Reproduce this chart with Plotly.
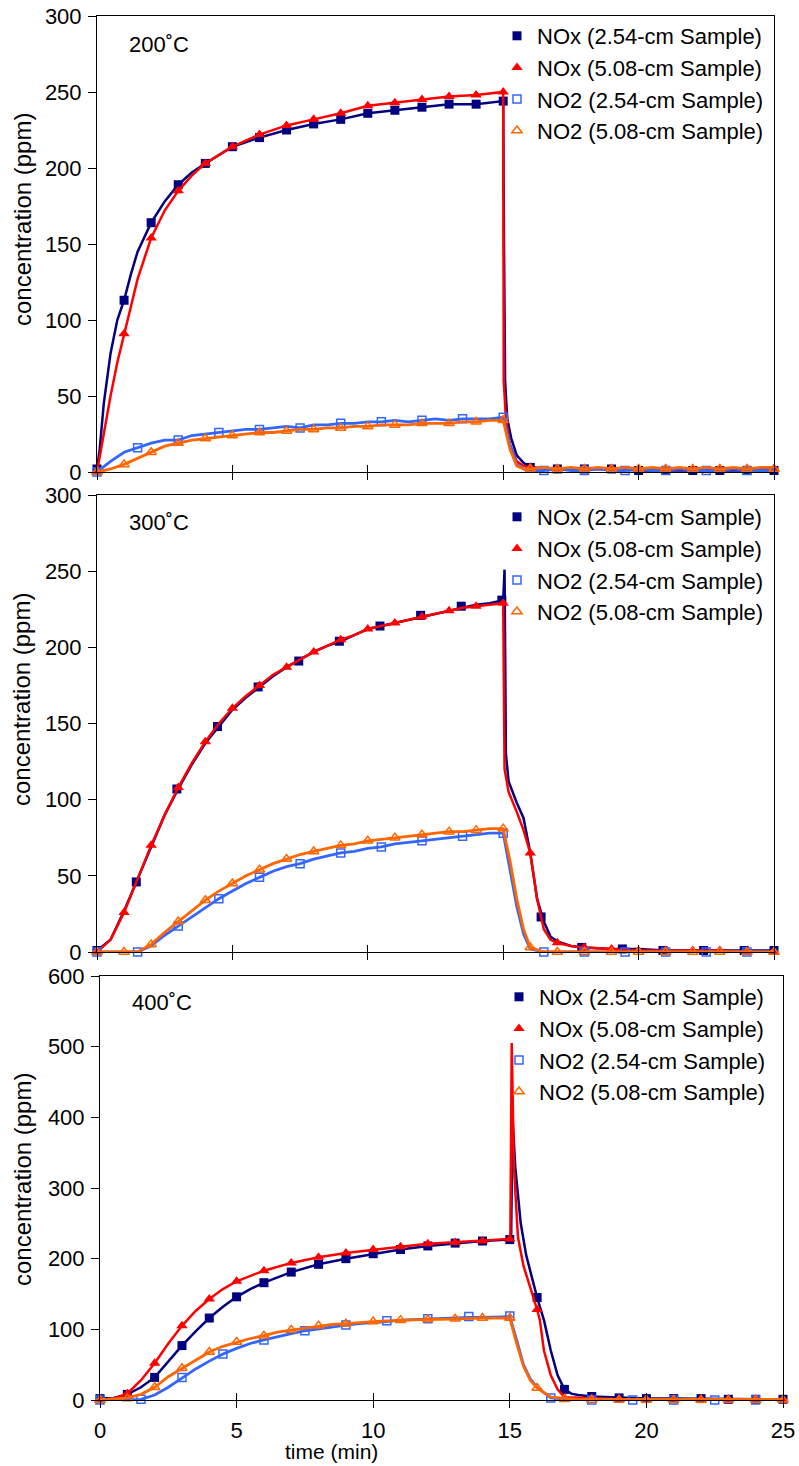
import plotly.graph_objects as go

FONT = "Liberation Sans, Arial, sans-serif"
C_NAVY = "#000080"
C_RED = "#FF0000"
C_BLUE = "#3366FF"
C_ORANGE = "#FF6600"

series_names = ["NOx (2.54-cm Sample)", "NOx (5.08-cm Sample)",
                "NO2 (2.54-cm Sample)", "NO2 (5.08-cm Sample)"]
panel_titles = ["200˚C", "300˚C", "400˚C"]
x_ticks = [0, 5, 10, 15, 20, 25]

# ---------------- common NO2 time grid (min) ----------------
t_no2 = [0, 0.5, 1, 1.5, 2, 2.5, 3, 3.5, 4, 4.5, 5, 5.5, 6, 6.5, 7, 7.5, 8, 8.5, 9, 9.5,
         10, 10.5, 11, 11.5, 12, 12.5, 13, 13.5, 14, 14.5, 15, 15.25, 15.5, 15.75,
         16, 16.5, 17, 17.5, 18, 18.5, 19, 19.5, 20, 20.5, 21, 21.5, 22, 22.5, 23, 23.5, 24, 24.5, 25]

t_int = list(range(0, 26))
t_15 = [0, 1.5, 3, 4.5, 6, 7.5, 9, 10.5, 12, 13.5, 15, 16.5, 18, 19.5, 21, 22.5, 24]

# ---------------- 200 C ----------------
p1_nox254_t = [0, 0.1, 0.25, 0.5, 0.75, 1, 1.25, 1.5, 2, 2.5, 3, 3.5, 4, 5, 6, 7, 8, 9, 10, 11, 12, 13, 14, 15,
               15.03, 15.07, 15.15, 15.3, 15.5, 15.75, 16, 17, 18, 19, 20, 21, 22, 23, 24, 25]
p1_nox254_v = [2, 15, 45, 78, 100, 113, 130, 145, 164, 178, 189, 197, 203, 214, 220, 225, 229, 232, 236, 238,
               240, 242, 242, 244, 150, 60, 35, 22, 11, 6, 3, 2, 2, 2, 1, 1, 1, 1, 1, 1]
p1_nox508_t = [0, 0.25, 0.5, 0.75, 1, 1.25, 1.5, 2, 2.5, 3, 3.5, 4, 5, 6, 7, 8, 9, 10, 11, 12, 13, 14, 15,
               15.02, 15.1, 15.25, 15.5, 15.75, 16, 17, 18, 19, 20, 21, 22, 23, 24, 25]
p1_nox508_v = [0, 25, 50, 72, 91, 110, 127, 154, 172, 185, 195, 203, 214, 222, 228, 232, 236, 241, 243, 245,
               247, 248, 250, 60, 35, 18, 7, 4, 3, 2, 2, 2, 2, 2, 2, 2, 2, 2]
p1_no2254_v = [0, 7, 13, 16, 19, 21, 21, 24, 25, 26, 27, 28, 28, 29, 30, 29, 31, 31, 32, 32, 33, 33, 34, 33,
               34, 35, 34, 35, 35, 35, 36, 18, 5, 2, 1, 1, 2, 1, 1, 2, 1, 1, 2, 1, 1, 2, 1, 1, 1, 2, 1, 1, 1]
p1_no2508_v = [0, 2, 5, 9, 13, 17, 19, 21, 22, 23, 24, 25, 26, 26, 27, 28, 28, 29, 29, 30, 30, 31, 31, 31,
               32, 32, 32, 33, 33, 34, 34, 15, 4, 2, 2, 3, 2, 3, 2, 3, 2, 3, 2, 3, 2, 3, 2, 3, 2, 3, 2, 3, 3]
p1_nox254_mv = [2, 113, 164, 189, 203, 214, 220, 225, 229, 232, 236, 238, 240, 242, 242, 244,
                3, 2, 2, 2, 1, 1, 1, 1, 1, 1]
p1_nox508_mv = [0, 91, 154, 185, 203, 214, 222, 228, 232, 236, 241, 243, 245, 247, 248, 250,
                3, 2, 2, 2, 2, 2, 2, 2, 2, 2]
p1_no2254_mv = [0, 16, 21, 26, 28, 29, 32, 33, 34, 35, 36, 1, 1, 1, 1, 1, 1]
p1_no2508_mv = [0, 5, 13, 19, 22, 24, 26, 27, 28, 29, 30, 31, 32, 32, 33, 34,
                2, 2, 2, 2, 2, 2, 2, 2, 2, 2]

# ---------------- 300 C ----------------
p2_nox254_t = [0, 0.5, 1, 1.5, 2, 2.5, 3, 3.5, 4, 4.5, 5, 5.5, 6, 6.5, 7, 7.5, 8, 8.5, 9, 9.5, 10, 10.5,
               11, 11.5, 12, 12.5, 13, 13.5, 14, 14.5, 15, 15.05, 15.1, 15.2, 15.5, 15.75, 16, 16.25,
               16.5, 16.75, 17, 17.5, 18, 19, 20, 21, 22, 23, 24, 25]
p2_nox254_v = [1, 8, 27, 48, 70, 90, 107, 123, 137, 148, 159, 167, 174, 181, 187, 192, 197, 201, 204, 208,
               212, 214, 216, 218, 220, 222, 224, 226, 228, 229, 231, 251, 130, 112, 98, 88, 65, 35,
               20, 10, 7, 4, 3, 2, 2, 1, 1, 1, 1, 1]
p2_nox508_t = [0, 0.5, 1, 1.5, 2, 2.5, 3, 3.5, 4, 4.5, 5, 5.5, 6, 6.5, 7, 7.5, 8, 8.5, 9, 9.5, 10, 10.5,
               11, 11.5, 12, 12.5, 13, 13.5, 14, 14.5, 15, 15.05, 15.2, 15.5, 15.75, 16, 16.25, 16.5,
               16.75, 17, 17.5, 18, 19, 20, 21, 22, 23, 24, 25]
p2_nox508_v = [0, 8, 26, 48, 70, 90, 108, 124, 138, 150, 160, 168, 175, 182, 187, 192, 197, 201, 205, 208,
               212, 214, 216, 218, 220, 222, 224, 226, 227, 228, 229, 120, 105, 92, 80, 65, 35, 15,
               8, 6, 4, 3, 2, 1, 1, 1, 1, 0, 0]
p2_no2254_v = [0, 0, 0, 0, 4, 11, 17, 23, 29, 35, 40, 45, 49, 53, 56, 58, 61, 63, 65, 66, 68, 69, 71, 72,
               73, 74, 75, 76, 77, 78, 78, 55, 30, 12, 2, 0, 0, 0, 0, 0, 0, 0, 0, 0, 0, 0, 0, 0, 0, 0, 0, 0, 0]
p2_no2508_v = [0, 0, 0, 0, 5, 13, 20, 27, 34, 40, 45, 50, 54, 58, 61, 64, 66, 68, 70, 71, 73, 74, 75, 76,
               77, 78, 79, 79, 80, 81, 81, 60, 35, 15, 3, 0, 0, 0, 0, 0, 0, 0, 0, 0, 0, 0, 0, 0, 0, 0, 0, 0, 0]
p2_nox254_mt = [0, 1.45, 2.95, 4.45, 5.95, 7.45, 8.95, 10.45, 11.95, 13.45, 14.95, 16.4, 17.9, 19.4,
                20.9, 22.4, 23.9, 25]
p2_nox254_mv = [1, 46, 107, 148, 174, 191, 204, 214, 221, 227, 231, 23, 3, 2, 1, 1, 1, 1]
p2_nox508_mv = [0, 26, 70, 108, 138, 160, 175, 187, 197, 205, 212, 216, 220, 224, 227, 229,
                65, 6, 3, 2, 1, 1, 1, 1, 0, 0]
p2_no2254_mv = [0, 0, 17, 35, 49, 58, 65, 69, 73, 76, 78, 0, 0, 0, 0, 0, 0]
p2_no2508_mv = [0, 0, 5, 20, 34, 45, 54, 61, 66, 70, 73, 75, 77, 79, 80, 81,
                3, 0, 0, 0, 0, 0, 0, 0, 0, 0]

# ---------------- 400 C ----------------
p3_nox254_t = [0, 0.5, 1, 1.5, 2, 2.5, 3, 3.5, 4, 4.5, 5, 5.5, 6, 7, 8, 9, 10, 11, 12, 13, 14, 15,
               15.05, 15.1, 15.2, 15.4, 15.6, 15.8, 16, 16.25, 16.5, 16.75, 17, 17.25, 17.5, 18,
               19, 20, 21, 22, 23, 24, 25]
p3_nox254_v = [2, 3, 8, 18, 32, 55, 77, 97, 116, 132, 146, 157, 166, 181, 192, 200, 207, 213, 218, 222,
               225, 227, 232, 400, 330, 250, 205, 175, 145, 113, 70, 35, 15, 9, 7, 5, 3, 2, 2, 2, 1, 1, 1]
p3_nox508_t = [0, 0.5, 1, 1.5, 2, 2.5, 3, 3.5, 4, 4.5, 5, 5.5, 6, 7, 8, 9, 10, 11, 12, 13, 14, 15,
               15.02, 15.07, 15.15, 15.3, 15.5, 15.75, 16, 16.1, 16.25, 16.5, 16.75, 17, 17.5, 18,
               19, 20, 21, 22, 23, 24, 25]
p3_nox508_v = [0, 2, 9, 28, 52, 80, 105, 126, 143, 157, 168, 176, 183, 194, 202, 208, 213, 217, 221, 223,
               225, 228, 235, 505, 330, 230, 190, 160, 128, 113, 70, 35, 15, 4, 3, 2, 1, 1, 1, 1, 1, 1, 0]
p3_no2254_v = [0, 0, 0, 1, 7, 18, 31, 44, 55, 65, 73, 80, 85, 90, 94, 98, 101, 103, 106, 108, 109, 111,
               113, 114, 115, 116, 116, 117, 117, 118, 118, 85, 50, 30, 18, 3, 1, 0, 0, 0, 0, 0, 0, 0, 0,
               0, 0, 0, 0, 0, 0, 0, 0]
p3_no2508_v = [0, 1, 3, 8, 18, 33, 45, 57, 68, 76, 82, 87, 91, 96, 99, 102, 105, 107, 108, 110, 111, 112,
               113, 113, 114, 114, 115, 115, 116, 116, 116, 80, 48, 28, 17, 4, 2, 1, 1, 1, 1, 1, 1, 1, 1,
               1, 1, 1, 1, 1, 1, 1, 1]
p3_nox254_mv = [2, 8, 32, 77, 116, 146, 166, 181, 192, 200, 207, 213, 218, 222, 225, 227,
                145, 15, 5, 3, 2, 2, 2, 1, 1, 1]
p3_nox508_mv = [0, 9, 52, 105, 143, 168, 183, 194, 202, 208, 213, 217, 221, 223, 225, 228,
                128, 3, 2, 1, 1, 1, 1, 1, 1, 0]
p3_no2254_mv = [0, 1, 32, 65, 85, 98, 106, 112, 115, 118, 119, 3, 0, 0, 0, 0, 0]
p3_no2508_mv = [0, 2, 18, 45, 68, 82, 91, 99, 105, 108, 111, 113, 114, 115, 116, 116,
                17, 1, 0, 0, 0, 0, 0, 0, 0, 0]

panels = [
    dict(lines=[(p1_nox254_t, p1_nox254_v), (p1_nox508_t, p1_nox508_v), (t_no2, p1_no2254_v), (t_no2, p1_no2508_v)],
         marks=[(t_int, p1_nox254_mv), (t_int, p1_nox508_mv), (t_15, p1_no2254_mv), (t_int, p1_no2508_mv)],
         ymax=300, dtick=50, xd=(97, 774), yd=(16, 472), title_pos=(127, 44), ylab_y=220, leg=(497, 15)),
    dict(lines=[(p2_nox254_t, p2_nox254_v), (p2_nox508_t, p2_nox508_v), (t_no2, p2_no2254_v), (t_no2, p2_no2508_v)],
         marks=[(p2_nox254_mt, p2_nox254_mv), (t_int, p2_nox508_mv), (t_15, p2_no2254_mv), (t_int, p2_no2508_mv)],
         ymax=300, dtick=50, xd=(97, 774), yd=(495, 952), title_pos=(127, 523), ylab_y=700, leg=(497, 496)),
    dict(lines=[(p3_nox254_t, p3_nox254_v), (p3_nox508_t, p3_nox508_v), (t_no2, p3_no2254_v), (t_no2, p3_no2508_v)],
         marks=[(t_int, p3_nox254_mv), (t_int, p3_nox508_mv), (t_15, p3_no2254_mv), (t_int, p3_no2508_mv)],
         ymax=600, dtick=100, xd=(100, 783), yd=(976, 1400), title_pos=(130, 1003), ylab_y=1180, leg=(499, 976)),
]

W, H = 799, 1466
colors = [C_NAVY, C_RED, C_BLUE, C_ORANGE]
line_widths = [2.5, 2.5, 2.8, 2.8]
markers = [
    dict(symbol="square", size=9, color=C_NAVY, line=dict(width=0)),
    dict(symbol="triangle-up", size=10, color=C_RED, line=dict(width=0)),
    dict(symbol="square-open", size=8, color=C_BLUE, line=dict(width=1.5)),
    dict(symbol="triangle-up-open", size=9, color=C_ORANGE, line=dict(width=1.5)),
]

fig = go.Figure()
layout = dict(width=W, height=H, autosize=False, margin=dict(l=0, r=0, t=0, b=0, pad=0, autoexpand=False),
              paper_bgcolor="white", plot_bgcolor="white", showlegend=True,
              font=dict(family=FONT, size=21, color="black"))
annotations = []

for i, p in enumerate(panels):
    n = i + 1
    xa = "x" if n == 1 else f"x{n}"
    ya = "y" if n == 1 else f"y{n}"
    leg = "legend" if n == 1 else f"legend{n}"
    for k in range(4):
        lt, lv = p["lines"][k]
        fig.add_trace(go.Scatter(x=lt, y=lv, mode="lines", line=dict(color=colors[k], width=line_widths[k]),
                                 xaxis=xa, yaxis=ya, showlegend=False, hoverinfo="skip", cliponaxis=False))
        mt, mv = p["marks"][k]
        fig.add_trace(go.Scatter(x=mt, y=mv, mode="markers", marker=markers[k], name=series_names[k],
                                 xaxis=xa, yaxis=ya, legend=leg, cliponaxis=False))
    x0, x1 = p["xd"]
    y0, y1 = p["yd"]
    xdom = [x0 / W, x1 / W]
    ydom = [1 - y1 / H, 1 - y0 / H]
    layout["xaxis" if n == 1 else f"xaxis{n}"] = dict(
        domain=xdom, anchor=ya, range=[0, 25], tickvals=x_ticks, ticks="outside", ticklen=7,
        tickwidth=1, tickcolor="black", showline=True, linecolor="black", linewidth=1, mirror=True,
        showgrid=False, zeroline=False, showticklabels=(n == 3), ticklabelstandoff=4, automargin=False,
        tickfont=dict(family=FONT, size=22, color="black"))
    layout["yaxis" if n == 1 else f"yaxis{n}"] = dict(
        domain=ydom, anchor=xa, range=[0, p["ymax"]], dtick=p["dtick"], tick0=0, ticks="outside",
        ticklen=8, tickwidth=1, tickcolor="black", showline=True, linecolor="black", linewidth=1,
        mirror=True, showgrid=False, zeroline=False, ticklabelstandoff=2, automargin=False,
        tickfont=dict(family=FONT, size=22, color="black"))
    # overlay axis providing the inner half of the crossing x ticks
    oname = f"x{n + 3}"
    layout[f"xaxis{n + 3}"] = dict(overlaying=xa, anchor=ya, range=[0, 25], tickvals=x_ticks,
                                   ticks="inside", ticklen=7, tickwidth=1, tickcolor="black", automargin=False,
                                   showline=False, showgrid=False, zeroline=False, showticklabels=False)
    fig.add_trace(go.Scatter(x=[], y=[], xaxis=oname, yaxis=ya, showlegend=False, hoverinfo="skip"))
    lx, ly = p["leg"]
    layout[leg] = dict(x=lx / W, y=1 - ly / H, xanchor="left", yanchor="top", bgcolor="rgba(0,0,0,0)",
                       font=dict(family=FONT, size=22, color="black"), traceorder="normal",
                       borderwidth=0, itemclick=False)
    tx, ty = p["title_pos"]
    annotations.append(dict(text=panel_titles[i], x=tx / W, y=1 - ty / H, xref="paper", yref="paper",
                            xanchor="left", yanchor="middle", showarrow=False,
                            font=dict(family=FONT, size=22, color="black")))
    annotations.append(dict(text="concentration (ppm)", x=22 / W, y=1 - p["ylab_y"] / H, xref="paper",
                            yref="paper", xanchor="center", yanchor="middle", showarrow=False,
                            textangle=-90, font=dict(family=FONT, size=24, color="black")))

annotations.append(dict(text="time (min)", x=331 / W, y=1 - 1451 / H, xref="paper", yref="paper",
                        xanchor="center", yanchor="middle", showarrow=False,
                        font=dict(family=FONT, size=21, color="black")))
layout["annotations"] = annotations
fig.update_layout(**layout)
fig.write_html("out.html")
